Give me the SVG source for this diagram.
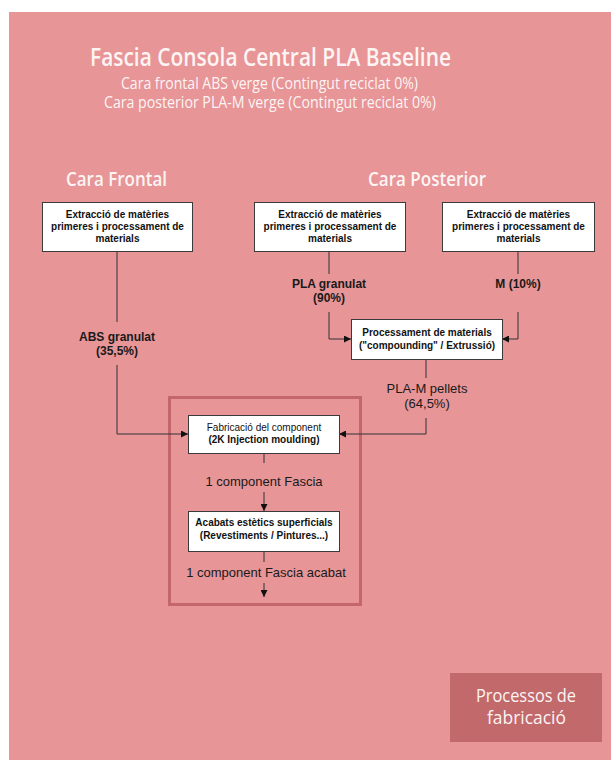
<svg xmlns="http://www.w3.org/2000/svg" width="611" height="760" viewBox="0 0 611 760">
<defs>
<style>
.hd{font-family:"Open Sans","Noto Sans",sans-serif;fill:#fdf4f4;text-anchor:middle}
.box{fill:#ffffff;stroke:#3a3a3a;stroke-width:1}
.bt{font-family:"Liberation Sans",Arial,sans-serif;font-size:10px;font-weight:bold;fill:#111;text-anchor:middle}
.bn{font-family:"Liberation Sans",Arial,sans-serif;font-size:10px;fill:#111;text-anchor:middle}
.lb{font-family:"Liberation Sans",Arial,sans-serif;font-size:13px;fill:#1a1a1a;text-anchor:middle}
.lbb{font-family:"Liberation Sans",Arial,sans-serif;font-size:12px;font-weight:bold;fill:#1a1a1a;text-anchor:middle}
.ln{fill:none;stroke:#333;stroke-width:1}
</style>
<marker id="arr" viewBox="0 0 10 10" refX="10" refY="5" markerWidth="7" markerHeight="7" markerUnits="userSpaceOnUse" orient="auto">
<path d="M0,0 L10,5 L0,10 z" fill="#111"/>
</marker>
</defs>
<rect x="9" y="12" width="602" height="748" fill="#e79597"/>
<g id="title">
<text class="hd" x="270.5" y="66" font-size="26" font-weight="600" textLength="361" lengthAdjust="spacingAndGlyphs">Fascia Consola Central PLA Baseline</text>
<text class="hd" x="269.5" y="89" font-size="16.5" textLength="297" lengthAdjust="spacingAndGlyphs">Cara frontal ABS verge (Contingut reciclat 0%)</text>
<text class="hd" x="270" y="108" font-size="16.5" textLength="332" lengthAdjust="spacingAndGlyphs">Cara posterior PLA-M verge (Contingut reciclat 0%)</text>
</g>
<g id="heading-frontal"><text class="hd" x="116.5" y="186" font-size="19" font-weight="600" textLength="101" lengthAdjust="spacingAndGlyphs">Cara Frontal</text></g>
<g id="heading-posterior"><text class="hd" x="427" y="186" font-size="19" font-weight="600" textLength="118" lengthAdjust="spacingAndGlyphs">Cara Posterior</text></g>
<g id="frame"><rect x="169.5" y="397.5" width="191" height="207" fill="none" stroke="#c4676a" stroke-width="3"/></g>
<g id="connectors">
<path class="ln" d="M117,251 V322"/>
<path class="ln" d="M117,365 V434 H188" marker-end="url(#arr)"/>
<path class="ln" d="M329,251 V274"/>
<path class="ln" d="M329,312 V339 H351" marker-end="url(#arr)"/>
<path class="ln" d="M518,251 V274"/>
<path class="ln" d="M518,312 V339 H502" marker-end="url(#arr)"/>
<path class="ln" d="M426,359 V378"/>
<path class="ln" d="M426,418 V434 H339" marker-end="url(#arr)"/>
<path class="ln" d="M264,453 V463"/>
<path class="ln" d="M264,492 V511" marker-end="url(#arr)"/>
<path class="ln" d="M264,551 V562"/>
<path class="ln" d="M264,583 V597" marker-end="url(#arr)"/>
<text class="lbb" x="117" y="341">ABS granulat</text>
<text class="lbb" x="117" y="355">(35,5%)</text>
<text class="lbb" x="329" y="288">PLA granulat</text>
<text class="lbb" x="329" y="302">(90%)</text>
<text class="lbb" x="518" y="288">M (10%)</text>
<text class="lb" x="427" y="393">PLA-M pellets</text>
<text class="lb" x="427" y="408">(64,5%)</text>
<text class="lb" x="264" y="486">1 component Fascia</text>
<text class="lb" x="266" y="577">1 component Fascia acabat</text>
</g>
<g id="node-extraccio-frontal">
<rect class="box" x="42.5" y="202.5" width="150" height="49"/>
<text class="bt" x="117.5" y="218">Extracció de matèries</text>
<text class="bt" x="117.5" y="230">primeres i processament de</text>
<text class="bt" x="117.5" y="242">materials</text>
</g>
<g id="node-extraccio-pla">
<rect class="box" x="254.5" y="202.5" width="151" height="49"/>
<text class="bt" x="330" y="218">Extracció de matèries</text>
<text class="bt" x="330" y="230">primeres i processament de</text>
<text class="bt" x="330" y="242">materials</text>
</g>
<g id="node-extraccio-m">
<rect class="box" x="442.5" y="202.5" width="152" height="49"/>
<text class="bt" x="518.5" y="218">Extracció de matèries</text>
<text class="bt" x="518.5" y="230">primeres i processament de</text>
<text class="bt" x="518.5" y="242">materials</text>
</g>
<g id="node-processament">
<rect class="box" x="351.5" y="319.5" width="151" height="40"/>
<text class="bt" x="427" y="336">Processament de materials</text>
<text class="bt" x="427" y="349">("compounding" / Extrussió)</text>
</g>
<g id="node-fabricacio">
<rect class="box" x="188.5" y="415.5" width="151" height="38"/>
<text class="bn" x="264" y="431">Fabricació del component</text>
<text class="bt" x="264" y="443">(2K Injection moulding)</text>
</g>
<g id="node-acabats">
<rect class="box" x="188.5" y="511.5" width="151" height="40"/>
<text class="bt" x="264" y="526">Acabats estètics superficials</text>
<text class="bt" x="264" y="539">(Revestiments / Pintures...)</text>
</g>
<g id="legend">
<rect x="450" y="673" width="152" height="69" fill="#c2696b"/>
<text class="hd" x="526" y="702" font-size="17.5" textLength="100" lengthAdjust="spacingAndGlyphs">Processos de</text>
<text class="hd" x="526.5" y="724" font-size="17.5" textLength="79" lengthAdjust="spacingAndGlyphs">fabricació</text>
</g>
</svg>
